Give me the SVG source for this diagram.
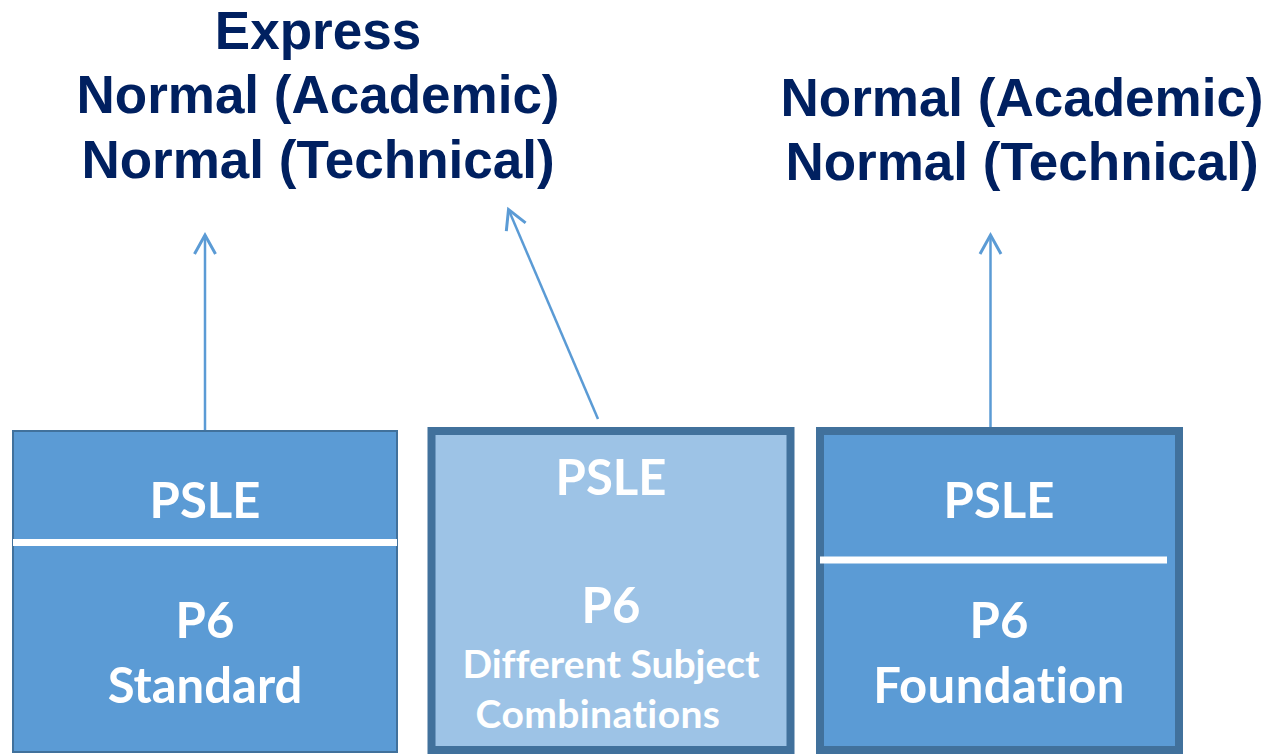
<svg xmlns="http://www.w3.org/2000/svg" width="1270" height="754" viewBox="0 0 1270 754">
<defs>
<style>
.title{font-family:"Liberation Sans",Arial,sans-serif;font-weight:bold;font-size:53px;fill:#002060;text-anchor:middle}
.lbl{font-family:Lato,"Open Sans",sans-serif;font-weight:bold;font-size:49px;fill:#ffffff;text-anchor:middle;font-variant-ligatures:none;font-feature-settings:"liga" 0,"clig" 0,"dlig" 0}
.nl{letter-spacing:0.4px}
.sm{font-size:39px}
.conn{stroke:#5B9BD5;stroke-width:2.5;fill:none;marker-end:url(#arr)}
.div{stroke:#ffffff;stroke-width:7}
</style>
<marker id="arr" markerUnits="userSpaceOnUse" markerWidth="30" markerHeight="30" viewBox="-25 -15 30 30" refX="0" refY="0" orient="auto">
<polyline points="-19,-10.5 0,0 -19,10.5" fill="none" stroke="#5B9BD5" stroke-width="3"/>
</marker>
</defs>
<rect width="1270" height="754" fill="#ffffff"/>
<g id="title-left">
<text class="title" x="318" y="49">Express</text>
<text class="title" x="318" y="113">Normal (Academic)</text>
<text class="title" x="318" y="178">Normal (Technical)</text>
</g>
<g id="title-right">
<text class="title" x="1022" y="116">Normal (Academic)</text>
<text class="title" x="1022" y="180">Normal (Technical)</text>
</g>
<g id="node-standard">
<rect x="13" y="431" width="384" height="321" fill="#5B9BD5" stroke="#41719C" stroke-width="2"/>
<line class="div" x1="13" y1="542.5" x2="397" y2="542.5"/>
<text class="lbl" x="205" y="518">PSLE</text>
<text class="lbl" x="205" y="638">P6</text>
<text class="lbl" x="205" y="703">Standard</text>
</g>
<g id="node-subjects">
<rect x="431.5" y="431" width="359" height="319" fill="#9DC3E6" stroke="#41719C" stroke-width="8"/>
<text class="lbl" x="611" y="495">PSLE</text>
<text class="lbl" x="611" y="623">P6</text>
<text class="lbl sm" x="611" y="678">Different Subject</text>
<text class="lbl sm nl" x="598" y="728">Combinations</text>
</g>
<g id="node-foundation">
<rect x="820" y="431" width="359" height="319" fill="#5B9BD5" stroke="#41719C" stroke-width="8"/>
<line class="div" x1="820" y1="560" x2="1167" y2="560"/>
<text class="lbl" x="999" y="518">PSLE</text>
<text class="lbl" x="999" y="638">P6</text>
<text class="lbl nl" x="999" y="703">Foundation</text>
</g>
<g id="connectors">
<line class="conn" x1="205" y1="430" x2="205" y2="235"/>
<line class="conn" x1="598" y1="419" x2="508.5" y2="209.5"/>
<line class="conn" x1="990.5" y1="427" x2="990.5" y2="235"/>
</g>
</svg>
